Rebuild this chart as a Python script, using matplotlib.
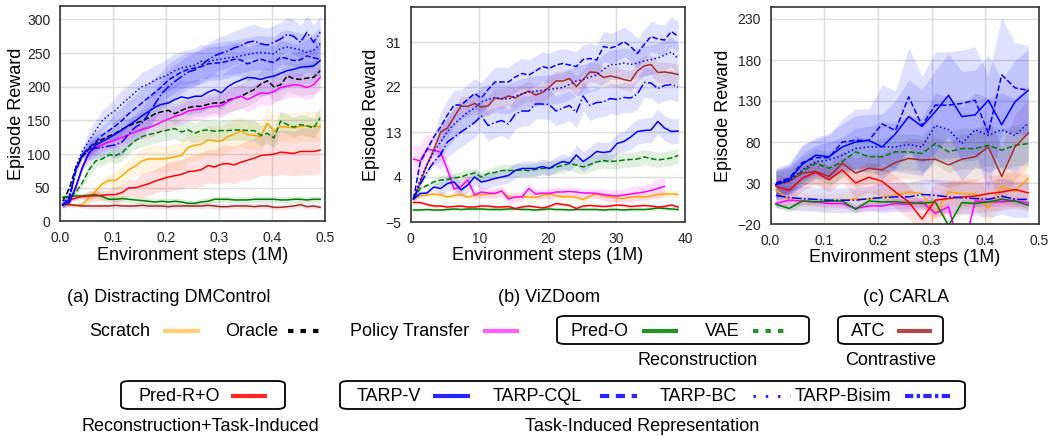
import numpy as np
import matplotlib
matplotlib.use('Agg')
import matplotlib.pyplot as plt
from matplotlib.lines import Line2D
from matplotlib.patches import FancyBboxPatch

plt.rcParams['font.family'] = ['Liberation Sans', 'DejaVu Sans']

# ---------------- (a) Distracting DMControl ----------------
steps_a = np.linspace(0.005, 0.49, 40)
scratch_a = [24, 24, 24, 25, 35, 45, 56, 61, 61, 68, 77, 82, 90, 93, 93, 93, 94, 96, 98, 110,
             113, 115, 121, 120, 119, 126, 130, 134, 129, 128, 126, 146, 134, 141, 140, 139, 141, 142, 141, 141]
oracle_a = [30, 49, 80, 96, 108, 116, 122, 127, 131, 137, 142, 146, 149, 154, 160, 163, 165, 160, 165, 169,
            171, 171, 174, 176, 176, 180, 183, 186, 191, 196, 204, 209, 200, 203, 216, 212, 211, 213, 214, 224]
policy_a = [24, 28, 50, 82, 102, 110, 114, 118, 121, 125, 129, 133, 137, 139, 143, 148, 152, 156, 159, 164,
            166, 167, 170, 171, 172, 178, 183, 186, 181, 186, 191, 190, 193, 199, 201, 203, 202, 199, 203, 214]
predo_a = [36, 37, 38, 38, 39, 40, 37, 33, 33, 34, 33, 32, 31, 30, 29, 30, 29, 30, 29, 27,
           27, 29, 30, 33, 33, 33, 32, 32, 32, 33, 33, 33, 33, 32, 32, 33, 33, 32, 33, 33]
vae_a = [36, 36, 43, 58, 77, 90, 93, 99, 98, 102, 112, 120, 126, 129, 131, 134, 136, 138, 133, 136,
         131, 135, 136, 134, 135, 135, 136, 136, 135, 135, 128, 131, 124, 149, 144, 140, 144, 142, 139, 154]
atc_a = [26, 25, 24, 23, 23, 23, 23, 23, 24, 23, 23, 23, 24, 23, 23, 23, 22, 23, 23, 23,
         23, 23, 24, 23, 22, 22, 23, 23, 23, 22, 23, 23, 21, 21, 22, 23, 25, 22, 23, 21]
predro_a = [25, 31, 35, 37, 38, 38, 39, 40, 40, 43, 50, 50, 53, 56, 60, 63, 66, 68, 70, 74,
            75, 77, 83, 81, 85, 86, 84, 88, 91, 94, 98, 99, 100, 103, 102, 101, 104, 104, 104, 106]
tarpv_a = [24, 28, 52, 80, 102, 113, 119, 124, 130, 136, 143, 149, 157, 163, 170, 174, 176, 181, 185, 183,
           186, 186, 192, 196, 191, 200, 206, 210, 214, 213, 211, 214, 216, 220, 224, 226, 229, 230, 231, 239]
cql_a = [25, 35, 75, 100, 110, 118, 128, 135, 142, 150, 160, 168, 176, 184, 192, 200, 210, 216, 222, 226,
         228, 230, 234, 235, 236, 238, 241, 240, 234, 238, 241, 238, 236, 244, 242, 239, 240, 246, 243, 241]
bc_a = [25, 40, 82, 105, 120, 135, 150, 158, 165, 175, 183, 192, 200, 204, 210, 214, 218, 224, 228, 230,
        232, 238, 237, 240, 241, 243, 244, 246, 248, 250, 251, 250, 249, 257, 259, 257, 255, 251, 254, 264]
bisim_a = [25, 32, 78, 100, 106, 109, 110, 112, 114, 118, 130, 140, 146, 160, 175, 190, 200, 208, 215, 222,
           225, 232, 240, 246, 250, 253, 258, 261, 266, 268, 264, 262, 266, 271, 278, 275, 266, 281, 266, 281]
# band half-widths (one value per 4 points)
scratch_a_sd = [3, 8, 15, 20, 20, 22, 22, 22, 22, 22]
oracle_a_sd = [5, 10, 12, 15, 15, 15, 18, 20, 22, 25]
policy_a_sd = [3, 10, 12, 15, 15, 15, 18, 18, 18, 18]
predo_a_sd = [4, 5, 5, 5, 5, 5, 5, 5, 5, 5]
vae_a_sd = [3, 10, 12, 15, 15, 15, 15, 15, 15, 15]
atc_a_sd = [3, 4, 4, 4, 4, 4, 4, 4, 4, 4]
predro_a_sd = [4, 8, 12, 18, 22, 25, 28, 30, 33, 35]
tarp_a_sd = [5, 15, 20, 22, 25, 25, 25, 25, 25, 25]

# ---------------- (b) ViZDoom ----------------
steps_b = np.linspace(0.4, 39, 40)
scratch_b = [-0.4, 0.2, 0.4, 0.6, 0.4, 0.0, 0.3, 0.5, 0.0, 0.3, 0.5, 0.6, 0.7, 1.2, 0.0, 0.0, 0.1, 0.0, -0.1, 0.3,
             0.6, 0.3, 0.0, 0.1, -0.1, -0.5, 0.2, 0.6, 0.2, 0.0, -0.2, -0.3, 0.0, 0.1, 0.0, 0.2, 0.5, 0.6, 0.6, 0.5]
policy_b = [7.6, 7.2, 9.6, 9.3, 9.0, 5.5, 1.6, 2.1, 3.4, 0.4, 1.0, 0.8, 0.7, 1.2, -0.4, 0.0, 0.0, 1.7, 0.6, 0.8,
            0.7, 1.0, 1.0, 1.1, 1.0, 0.8, 0.8, 0.7, 0.5, 0.3, 0.2, 0.4, 0.6, 0.8, 1.0, 1.3, 1.7, 2.1]
predo_b = [-2.6, -2.6, -2.5, -2.6, -2.6, -2.5, -2.4, -2.5, -2.4, -2.4, -2.4, -2.5, -2.5, -2.5, -2.4, -2.4, -2.5, -2.5, -2.6, -2.5,
           -2.4, -2.5, -2.5, -2.6, -2.5, -2.5, -2.5, -2.5, -2.6, -2.5, -2.5, -2.6, -2.5, -2.5, -2.5, -2.4, -2.2, -2.3, -2.4, -2.5]
vae_b = [-0.4, 1.7, 2.3, 3.0, 3.4, 3.5, 3.8, 4, 4.5, 4.8, 4, 4.7, 4.9, 5.3, 5.3, 5.3, 5.4, 5.3, 5.5, 5.7,
         5.8, 6, 6.3, 6.7, 6.4, 6, 6.5, 7, 7.3, 7.1, 7.2, 7.4, 7.5, 7.6, 8, 7.7, 7.4, 7.6, 7.8, 8.3]
atc_b = [-0.4, 3, 6.5, 9.5, 13, 13.8, 16, 18.2, 18.1, 18.7, 18, 18.2, 19.8, 19.6, 20.2, 19.8, 20.6, 21.2, 20.4, 20.9,
         22, 23.2, 23.2, 23.7, 22.1, 23.5, 25, 24.9, 23.9, 24.2, 23.9, 23.5, 23.2, 25.2, 26.2, 26.5, 24.9, 25, 24.8, 24.5]
predro_b = [-1.1, -1.1, -1.5, -1.8, -1.8, -2.0, -1.9, -1.8, -2.0, -2.0, -1.8, -1.8, -2.0, -2.0, -1.9, -2.3, -2.0, -1.8, -2.0, -2.2,
            -1.9, -1.3, -1.5, -1.7, -2.3, -1.8, -1.7, -1.8, -1.9, -1.8, -1.6, -1.7, -1.9, -1.8, -1.7, -1.8, -2.0, -1.9, -1.6, -2.0]
tarpv_b = [-0.4, 0.7, 0.8, 2, 1.7, 2.7, 3, 1.4, 2.4, 4, 3, 3.3, 3.7, 4, 4.3, 5.3, 5.7, 5.7, 5.7, 6.1,
           5.7, 6.5, 7.1, 6.8, 8.4, 7.1, 8, 9.1, 8.9, 9.1, 10.7, 11.1, 12, 13.1, 13.3, 13.4, 15.1, 13.8, 13.1, 13.2]
cql_b = [-0.4, 7, 9.5, 12, 14, 16.4, 18.4, 18.4, 19.5, 20.7, 19.8, 21.5, 23, 23, 23, 24, 24.7, 24.4, 25.2, 26.1,
         25.7, 26.4, 26.7, 26.4, 26.1, 27.5, 27.7, 27.4, 30.1, 29.8, 30.2, 31.1, 30.1, 28.7, 30.5, 32.1, 31.6, 31.4, 33.1, 32.1]
bc_b = [-0.4, 3.5, 6.5, 9, 11, 13, 14.6, 15.8, 17, 17.8, 19, 19.5, 19.9, 19.7, 19.6, 20.2, 20.6, 21, 21.2, 21.3,
        21.5, 21.7, 21.9, 22.5, 23.2, 23.5, 24, 24.4, 25.5, 26.5, 26.5, 26.8, 26.5, 26.8, 27.2, 27.5, 27.8, 28.4, 29, 27.7]
bisim_b = [-0.4, 2.5, 5, 7, 8.5, 11, 12, 13, 13.9, 14.9, 16.2, 14.3, 14.9, 15.3, 14.6, 16.6, 17.2, 17.2, 18.6, 18.6,
           18.5, 17.2, 17.8, 18.3, 16.9, 20.2, 18.3, 18.9, 19, 19.7, 19.5, 19.9, 19.8, 20.6, 22.9, 22.8, 21.7, 22.3, 22.5, 22]
scratch_b_sd = [0.5, 0.8, 0.8, 0.8, 0.8, 0.8, 0.8, 0.8, 0.8, 0.8]
policy_b_sd = [3, 1.5, 1, 1, 1, 1, 1, 1.2, 1.5, 1.8]
predo_b_sd = [0.3] * 10
vae_b_sd = [0.5, 1, 1, 1.2, 1.3, 1.4, 1.5, 1.5, 1.5, 1.5]
atc_b_sd = [0.5, 2, 2, 2, 2, 2, 2, 2, 2, 2]
predro_b_sd = [0.3] * 10
tarpv_b_sd = [0.5, 1.5, 1.5, 1.5, 1.5, 1.5, 2, 2, 2.5, 2.5]
tarp_b_sd = [0.5, 3, 3, 3, 3, 3, 3, 3, 3, 3]

# ---------------- (c) CARLA ----------------
steps_c = np.linspace(0.01, 0.48, 20)
scratch_c = [22, 9, 8, 7, 7, 9, 11, 10, 13, 15, 19, 17, -8, 19, 17, 17, -1, 26, 20, 36]
policy_c = [5, 9, 8, 7, 5, 5, -1, 2, 2, 5, 4, 7, -7, 1, -60, 8, 7, 7, 8, 6]
predo_c = [4, -1, 8, 7, 8, 8, -2, 8, 7, 7, 6, 5, 7, -22, 6, 5, 7, 10, 8, 3]
vae_c = [30, 34, 44, 54, 48, 56, 68, 62, 62, 68, 68, 66, 78, 68, 72, 72, 76, 70, 76, 78]
atc_c = [28, 32, 42, 44, 38, 54, 42, 48, 46, 55, 60, 58, 59, 52, 59, 62, 74, 38, 74, 91]
predro_c = [26, 21, 36, 43, 34, 46, 30, 37, 32, 19, 7, -14, 9, 11, 13, 14, 17, 19, 22, 18]
tarpv_c = [28, 34, 53, 64, 62, 74, 80, 82, 74, 90, 111, 99, 117, 137, 111, 113, 131, 101, 129, 143]
cql_c = [30, 36, 55, 61, 61, 80, 82, 82, 102, 94, 135, 100, 125, 125, 127, 131, 91, 162, 146, 143]
bc_c = [28, 32, 46, 56, 58, 64, 72, 74, 74, 74, 77, 74, 100, 95, 78, 95, 88, 95, 88, 103]
bisim_c = [15, 12, 11, 10, 9, 9, 9, 11, 12, 13, 13, 16, 15, 13, 12, 11, 10, 14, 10, 10]
scratch_c_sd = [12, 10, 10, 10, 12, 15, 15, 18, 20, 22]
policy_c_sd = [5, 5, 5, 5, 6, 6, 6, 6, 6, 6]
predo_c_sd = [4] * 10
vae_c_sd = [15, 18, 20, 20, 22, 22, 25, 25, 25, 25]
atc_c_sd = [15, 15, 15, 18, 20, 25, 28, 30, 35, 40]
predro_c_sd = [15, 15, 15, 18, 20, 20, 20, 20, 22, 22]
tarpv_c_sd = [18, 22, 28, 32, 40, 45, 50, 55, 55, 50]
cql_c_sd = [18, 22, 28, 38, 48, 60, 65, 65, 70, 55]
bc_c_sd = [18, 20, 22, 25, 30, 35, 40, 45, 45, 45]
bisim_c_sd = [15, 15, 15, 15, 18, 18, 20, 20, 22, 22]

styles = {
    'Scratch': ('orange', '-'),
    'Oracle': ('black', '--'),
    'Policy Transfer': ('magenta', '-'),
    'Pred-O': ('green', '-'),
    'VAE': ('green', '--'),
    'ATC': ('brown', '-'),
    'Pred-R+O': ('red', '-'),
    'TARP-V': ('blue', '-'),
    'TARP-CQL': ('blue', '--'),
    'TARP-BC': ('blue', ':'),
    'TARP-Bisim': ('blue', '-.'),
}

W, H = 1048, 436
fig = plt.figure(figsize=(W / 100, H / 100), dpi=100)


def fx(px):
    return px / W


def fy(py):
    return 1 - py / H


def draw(ax, name, x, y, sd):
    color, ls = styles[name]
    y = np.asarray(y, float)
    x = x[:len(y)]
    rep = int(np.ceil(len(y) / len(sd)))
    s = np.repeat(np.asarray(sd, float), rep)[:len(y)]
    band_alpha = 0.08 if name == 'Oracle' else 0.12
    ax.fill_between(x, y - s, y + s, color=color, alpha=band_alpha, lw=0)
    ax.plot(x, y, color=color, ls=ls, lw=1.1)


def style_ax(ax, xlim, ylim, xticks, yticks):
    ax.set_xlim(*xlim)
    ax.set_ylim(*ylim)
    ax.set_xticks(xticks)
    ax.set_yticks(yticks)
    ax.grid(True, color='#dcdcdc', lw=1.0)
    ax.set_axisbelow(True)
    for sp in ax.spines.values():
        sp.set_color('#333333')
        sp.set_linewidth(1.2)
    ax.tick_params(length=0, pad=7, labelsize=10, colors='#222222')
    ax.set_ylabel('Episode Reward', fontsize=13)
    ax.set_xlabel('Environment steps (1M)', fontsize=13, labelpad=1)


axa = fig.add_axes([fx(60), fy(221.5), fx(265.5), 215.5 / H])
axb = fig.add_axes([fx(410.7), fy(222), fx(274.3), 215 / H])
axc = fig.add_axes([fx(770.5), fy(224), fx(268.5), 217.3 / H])

draw(axa, 'Scratch', steps_a, scratch_a, scratch_a_sd)
draw(axa, 'Oracle', steps_a, oracle_a, oracle_a_sd)
draw(axa, 'Policy Transfer', steps_a, policy_a, policy_a_sd)
draw(axa, 'Pred-O', steps_a, predo_a, predo_a_sd)
draw(axa, 'VAE', steps_a, vae_a, vae_a_sd)
draw(axa, 'ATC', steps_a, atc_a, atc_a_sd)
draw(axa, 'Pred-R+O', steps_a, predro_a, predro_a_sd)
draw(axa, 'TARP-V', steps_a, tarpv_a, tarp_a_sd)
draw(axa, 'TARP-CQL', steps_a, cql_a, tarp_a_sd)
draw(axa, 'TARP-BC', steps_a, bc_a, tarp_a_sd)
draw(axa, 'TARP-Bisim', steps_a, bisim_a, tarp_a_sd)
style_ax(axa, (0, 0.5), (0, 320), [0, 0.1, 0.2, 0.3, 0.4, 0.5], [0, 50, 100, 150, 200, 250, 300])
axa.set_xticklabels(['0.0', '0.1', '0.2', '0.3', '0.4', '0.5'])

draw(axb, 'Scratch', steps_b, scratch_b, scratch_b_sd)
draw(axb, 'Policy Transfer', steps_b, policy_b, policy_b_sd)
draw(axb, 'Pred-O', steps_b, predo_b, predo_b_sd)
draw(axb, 'VAE', steps_b, vae_b, vae_b_sd)
draw(axb, 'ATC', steps_b, atc_b, atc_b_sd)
draw(axb, 'Pred-R+O', steps_b, predro_b, predro_b_sd)
draw(axb, 'TARP-V', steps_b, tarpv_b, tarpv_b_sd)
draw(axb, 'TARP-CQL', steps_b, cql_b, tarp_b_sd)
draw(axb, 'TARP-BC', steps_b, bc_b, tarp_b_sd)
draw(axb, 'TARP-Bisim', steps_b, bisim_b, tarp_b_sd)
style_ax(axb, (0, 40), (-5, 38), [0, 10, 20, 30, 40], [-5, 4, 13, 22, 31])

draw(axc, 'Scratch', steps_c, scratch_c, scratch_c_sd)
draw(axc, 'Policy Transfer', steps_c, policy_c, policy_c_sd)
draw(axc, 'Pred-O', steps_c, predo_c, predo_c_sd)
draw(axc, 'VAE', steps_c, vae_c, vae_c_sd)
draw(axc, 'ATC', steps_c, atc_c, atc_c_sd)
draw(axc, 'Pred-R+O', steps_c, predro_c, predro_c_sd)
draw(axc, 'TARP-V', steps_c, tarpv_c, tarpv_c_sd)
draw(axc, 'TARP-CQL', steps_c, cql_c, cql_c_sd)
draw(axc, 'TARP-BC', steps_c, bc_c, bc_c_sd)
draw(axc, 'TARP-Bisim', steps_c, bisim_c, bisim_c_sd)
style_ax(axc, (0, 0.5), (-20, 245), [0, 0.1, 0.2, 0.3, 0.4, 0.5], [-20, 30, 80, 130, 180, 230])
axc.set_xticklabels(['0.0', '0.1', '0.2', '0.3', '0.4', '0.5'])

axa.yaxis.set_label_coords(-0.13, 0.5)
axb.yaxis.set_label_coords(-0.112, 0.5)
axc.yaxis.set_label_coords(-0.145, 0.5)

# sub-captions
for txt, cx in [('(a) Distracting DMControl', 169), ('(b) ViZDoom', 549), ('(c) CARLA', 906)]:
    fig.text(fx(cx), fy(297), txt, ha='center', va='center', fontsize=13)

# ---------------- custom legend ----------------
leg_items = [
    # label, text x, line x0, line x1, row y, color, dashes, lw, alpha
    ('Scratch', 89, 163, 200, 331, 'orange', None, 3, 0.55),
    ('Oracle', 225, 288, 325, 331, 'black', (1.3, 1.7), 3, 1.0),
    ('Policy Transfer', 350, 483, 519, 331, 'magenta', None, 3, 0.65),
    ('Pred-O', 571, 642, 678, 331, 'green', None, 3, 0.85),
    ('VAE', 705, 753, 790, 331, 'green', (1.3, 1.7), 3, 0.85),
    ('ATC', 851, 897, 932, 331, 'brown', None, 3, 0.85),
    ('Pred-R+O', 139, 231, 267, 396, 'red', None, 3, 0.85),
    ('TARP-V', 357, 433, 470, 396, 'blue', None, 3, 0.85),
    ('TARP-CQL', 493, 600, 637, 396, 'blue', (2.2, 1.6), 3, 0.85),
    ('TARP-BC', 660, 753, 790, 396, 'blue', (0.8, 3.2), 2.2, 0.85),
    ('TARP-Bisim', 795, 905, 953, 396, 'blue', (2.0, 0.8, 0.8, 0.8), 3, 0.85),
]
for label, tx, x0, x1, ry, color, dashes, lw, alpha in leg_items:
    fig.text(fx(tx), fy(ry), label, ha='left', va='center', fontsize=13)
    ln = Line2D([fx(x0), fx(x1)], [fy(ry), fy(ry)], transform=fig.transFigure,
                color=color, lw=lw, alpha=alpha, solid_capstyle='butt', dash_capstyle='butt')
    if dashes is not None:
        ln.set_dashes(dashes)
    fig.add_artist(ln)

boxes = [(557, 316, 809, 344), (838, 316, 943, 344), (121, 381, 285, 409), (340, 381, 965, 409)]
for x0, y0, x1, y1 in boxes:
    fig.add_artist(FancyBboxPatch((fx(x0), fy(y1)), fx(x1 - x0), (y1 - y0) / H,
                                  boxstyle='round,pad=0,rounding_size=0.008',
                                  transform=fig.transFigure, fill=False, ec='black', lw=1.3))

for txt, cx, cy in [('Reconstruction', 698, 360), ('Contrastive', 891, 360),
                    ('Reconstruction+Task-Induced', 200, 426), ('Task-Induced Representation', 642, 426)]:
    fig.text(fx(cx), fy(cy), txt, ha='center', va='center', fontsize=13)

fig.savefig('out.png', dpi=100)
